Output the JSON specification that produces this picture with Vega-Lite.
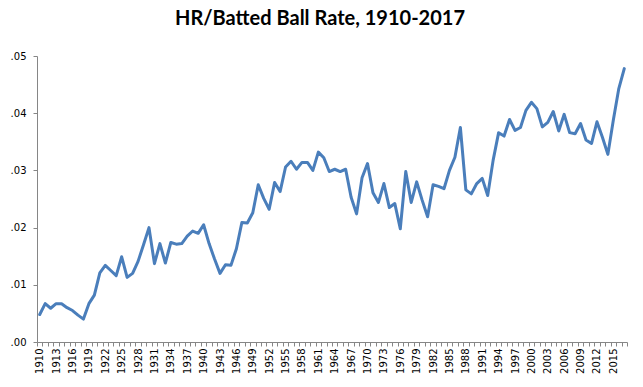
{
  "$schema": "https://vega.github.io/schema/vega-lite/v6.json",
  "width": 590,
  "height": 286,
  "autosize": {"type": "none"},
  "padding": {"left": 37, "top": 56, "right": 16, "bottom": 45},
  "background": "white",
  "title": {
    "text": "HR/Batted Ball Rate, 1910-2017",
    "font": "Lato",
    "fontSize": 20,
    "fontWeight": "bold",
    "color": "#000000",
    "anchor": "middle",
    "dx": -12,
    "offset": 22
  },
  "data": {
    "values": [
      {"year": "1910", "rate": 0.0048},
      {"year": "1911", "rate": 0.0067},
      {"year": "1912", "rate": 0.0059},
      {"year": "1913", "rate": 0.0067},
      {"year": "1914", "rate": 0.0067},
      {"year": "1915", "rate": 0.0060},
      {"year": "1916", "rate": 0.0055},
      {"year": "1917", "rate": 0.0047},
      {"year": "1918", "rate": 0.0040},
      {"year": "1919", "rate": 0.0067},
      {"year": "1920", "rate": 0.0082},
      {"year": "1921", "rate": 0.0121},
      {"year": "1922", "rate": 0.0134},
      {"year": "1923", "rate": 0.0125},
      {"year": "1924", "rate": 0.0116},
      {"year": "1925", "rate": 0.0149},
      {"year": "1926", "rate": 0.0113},
      {"year": "1927", "rate": 0.0120},
      {"year": "1928", "rate": 0.0141},
      {"year": "1929", "rate": 0.0170},
      {"year": "1930", "rate": 0.0200},
      {"year": "1931", "rate": 0.0137},
      {"year": "1932", "rate": 0.0172},
      {"year": "1933", "rate": 0.0138},
      {"year": "1934", "rate": 0.0174},
      {"year": "1935", "rate": 0.0171},
      {"year": "1936", "rate": 0.0172},
      {"year": "1937", "rate": 0.0185},
      {"year": "1938", "rate": 0.0194},
      {"year": "1939", "rate": 0.0190},
      {"year": "1940", "rate": 0.0205},
      {"year": "1941", "rate": 0.0172},
      {"year": "1942", "rate": 0.0145},
      {"year": "1943", "rate": 0.0120},
      {"year": "1944", "rate": 0.0135},
      {"year": "1945", "rate": 0.0134},
      {"year": "1946", "rate": 0.0163},
      {"year": "1947", "rate": 0.0209},
      {"year": "1948", "rate": 0.0208},
      {"year": "1949", "rate": 0.0226},
      {"year": "1950", "rate": 0.0275},
      {"year": "1951", "rate": 0.0251},
      {"year": "1952", "rate": 0.0232},
      {"year": "1953", "rate": 0.0279},
      {"year": "1954", "rate": 0.0263},
      {"year": "1955", "rate": 0.0306},
      {"year": "1956", "rate": 0.0316},
      {"year": "1957", "rate": 0.0302},
      {"year": "1958", "rate": 0.0314},
      {"year": "1959", "rate": 0.0314},
      {"year": "1960", "rate": 0.0300},
      {"year": "1961", "rate": 0.0332},
      {"year": "1962", "rate": 0.0322},
      {"year": "1963", "rate": 0.0298},
      {"year": "1964", "rate": 0.0302},
      {"year": "1965", "rate": 0.0298},
      {"year": "1966", "rate": 0.0302},
      {"year": "1967", "rate": 0.0253},
      {"year": "1968", "rate": 0.0224},
      {"year": "1969", "rate": 0.0287},
      {"year": "1970", "rate": 0.0312},
      {"year": "1971", "rate": 0.0261},
      {"year": "1972", "rate": 0.0244},
      {"year": "1973", "rate": 0.0277},
      {"year": "1974", "rate": 0.0235},
      {"year": "1975", "rate": 0.0242},
      {"year": "1976", "rate": 0.0198},
      {"year": "1977", "rate": 0.0298},
      {"year": "1978", "rate": 0.0244},
      {"year": "1979", "rate": 0.0280},
      {"year": "1980", "rate": 0.0248},
      {"year": "1981", "rate": 0.0219},
      {"year": "1982", "rate": 0.0275},
      {"year": "1983", "rate": 0.0272},
      {"year": "1984", "rate": 0.0268},
      {"year": "1985", "rate": 0.0300},
      {"year": "1986", "rate": 0.0323},
      {"year": "1987", "rate": 0.0375},
      {"year": "1988", "rate": 0.0266},
      {"year": "1989", "rate": 0.0259},
      {"year": "1990", "rate": 0.0277},
      {"year": "1991", "rate": 0.0286},
      {"year": "1992", "rate": 0.0256},
      {"year": "1993", "rate": 0.0318},
      {"year": "1994", "rate": 0.0366},
      {"year": "1995", "rate": 0.0360},
      {"year": "1996", "rate": 0.0389},
      {"year": "1997", "rate": 0.0370},
      {"year": "1998", "rate": 0.0375},
      {"year": "1999", "rate": 0.0405},
      {"year": "2000", "rate": 0.0419},
      {"year": "2001", "rate": 0.0408},
      {"year": "2002", "rate": 0.0376},
      {"year": "2003", "rate": 0.0384},
      {"year": "2004", "rate": 0.0403},
      {"year": "2005", "rate": 0.0369},
      {"year": "2006", "rate": 0.0398},
      {"year": "2007", "rate": 0.0366},
      {"year": "2008", "rate": 0.0364},
      {"year": "2009", "rate": 0.0382},
      {"year": "2010", "rate": 0.0353},
      {"year": "2011", "rate": 0.0347},
      {"year": "2012", "rate": 0.0385},
      {"year": "2013", "rate": 0.0358},
      {"year": "2014", "rate": 0.0328},
      {"year": "2015", "rate": 0.0388},
      {"year": "2016", "rate": 0.0443},
      {"year": "2017", "rate": 0.0478}
    ]
  },
  "mark": {"type": "line", "color": "#4A7EBB", "strokeWidth": 3, "strokeJoin": "round", "strokeCap": "round"},
  "encoding": {
    "x": {
      "field": "year",
      "type": "ordinal",
      "scale": {"type": "band", "paddingInner": 0, "paddingOuter": 0},
      "axis": {
        "title": null,
        "labelAngle": 270,
        "labelPadding": 2,
        "labelOverlap": false,
        "labelExpr": "(toNumber(datum.value) - 1910) % 3 == 0 ? datum.value : ''",
        "tickBand": "extent",
        "tickSize": 4,
        "tickColor": "#868686",
        "domainColor": "#868686",
        "grid": false,
        "encode": {
          "labels": {
            "update": {
              "angle": {"value": 270},
              "align": {"value": "right"},
              "baseline": {"value": "middle"}
            }
          }
        }
      }
    },
    "y": {
      "field": "rate",
      "type": "quantitative",
      "scale": {"domain": [0, 0.05], "nice": false, "zero": true},
      "axis": {
        "title": null,
        "values": [0, 0.01, 0.02, 0.03, 0.04, 0.05],
        "labelExpr": "substring(format(datum.value, '.2f'), 1)",
        "labelPadding": 7,
        "tickSize": 4,
        "tickColor": "#868686",
        "domainColor": "#868686",
        "grid": false
      }
    }
  },
  "config": {
    "view": {"stroke": null},
    "axis": {"labelFont": "DejaVu Sans", "labelFontSize": 10, "labelColor": "#000000"}
  }
}
